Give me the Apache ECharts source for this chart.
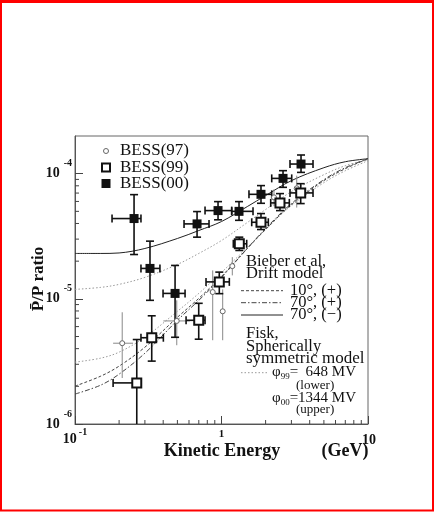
<!DOCTYPE html>
<html><head><meta charset="utf-8">
<script src="https://cdn.jsdelivr.net/npm/echarts@6/dist/echarts.min.js"></script>
<style>html,body{margin:0;padding:0;background:#fff}#c{width:434px;height:512px}</style>
</head><body><div id="c"></div>
<script>
// ---------------- data ----------------
const b00E   = [0.253, 0.325, 0.482, 0.681, 0.947, 1.317, 1.860, 2.63, 3.49];
const b00R   = [4.38e-5, 1.75e-5, 1.105e-5, 3.97e-5, 5.07e-5, 5.00e-5, 6.84e-5, 9.17e-5, 1.194e-4];
const b00Elo = [0.179, 0.282, 0.399, 0.555, 0.772, 1.174, 1.540, 2.202, 2.935];
const b00Ehi = [0.282, 0.380, 0.564, 0.822, 1.174, 1.641, 2.202, 3.015, 4.214];
const b00Rlo = [2.26e-5, 9.73e-6, 4.93e-6, 3.11e-5, 4.28e-5, 4.24e-5, 5.80e-5, 7.78e-5, 1.024e-4];
const b00Rhi = [6.80e-5, 2.89e-5, 1.849e-5, 4.98e-5, 5.98e-5, 5.98e-5, 8.03e-5, 1.057e-4, 1.41e-4];

const b99E   = [0.264, 0.334, 0.699, 0.966, 1.323, 1.860, 2.507, 3.473];
const b99R   = [2.13e-6, 4.89e-6, 6.74e-6, 1.366e-5, 2.754e-5, 4.09e-5, 5.84e-5, 7.02e-5];
const b99Elo = [0.182, 0.282, 0.573, 0.784, 1.204, 1.608, 2.167, 2.935];
const b99Ehi = [0.274, 0.401, 0.772, 1.131, 1.486, 2.087, 2.903, 4.214];
const b99Rlo = [5e-7, 3.18e-6, 4.76e-6, 1.10e-5, 2.435e-5, 3.58e-5, 5.07e-5, 5.77e-5];
const b99Rhi = [4.73e-6, 7.32e-6, 9.21e-6, 1.635e-5, 3.11e-5, 4.80e-5, 6.93e-5, 8.32e-5];

const b97E   = [0.210, 0.495, 0.871, 1.019, 1.185, 2.282, 3.262];
const b97R   = [4.42e-6, 6.66e-6, 1.133e-5, 7.95e-6, 1.825e-5, 6.47e-5, 7.64e-5];
const b97Elo = [0.182, 0.401, 0.871, 1.019, 1.185, 2.282, 3.262];
const b97Ehi = [0.249, 0.609, 0.871, 1.019, 1.185, 2.282, 3.262];
const b97Rlo = [2.33e-6, 4.26e-6, 4.67e-6, 4.67e-6, 1.539e-5, 5.5e-5, 5.36e-5];
const b97Rhi = [7.81e-6, 9.73e-6, 1.687e-5, 1.19e-5, 2.153e-5, 7.5e-5, 9.64e-5];

const curveE    = [0.1, 0.15, 0.2, 0.3, 0.5, 0.7, 1, 1.5, 2, 3, 5, 7, 10];
const solid70m  = [2.305e-5, 2.305e-5, 2.326e-5, 2.526e-5, 3.035e-5, 3.514e-5, 4.146e-5, 5.46e-5, 6.68e-5, 8.80e-5, 1.116e-4, 1.246e-4, 1.317e-4];
const fiskUpper = [1.190e-5, 1.235e-5, 1.305e-5, 1.484e-5, 1.884e-5, 2.305e-5, 2.925e-5, 4.07e-5, 5.17e-5, 7.19e-5, 9.82e-5, 1.158e-4, 1.293e-4];
const fiskLower = [3.12e-6, 3.36e-6, 3.75e-6, 4.93e-6, 7.95e-6, 1.106e-5, 1.626e-5, 2.573e-5, 3.58e-5, 5.56e-5, 8.48e-5, 1.056e-4, 1.27e-4];
const dot10p    = [2.008e-6, 2.413e-6, 2.90e-6, 4.11e-6, 7.12e-6, 1.009e-5, 1.511e-5, 2.526e-5, 3.58e-5, 5.66e-5, 8.80e-5, 1.096e-4, 1.317e-4];
const dash70p   = [1.734e-6, 2.046e-6, 2.502e-6, 3.68e-6, 6.74e-6, 9.73e-6, 1.484e-5, 2.526e-5, 3.65e-5, 5.77e-5, 8.96e-5, 1.116e-4, 1.317e-4];

const xMajor = [0.1, 1, 10];
const yMajor = [1e-6, 1e-5, 1e-4];
// ---------------------------------------

const SERIF = '"Liberation Serif", "DejaVu Serif", serif';
const xMinor = [], yMinor = [];
[0.1, 1].forEach(d => { for (let k = 2; k <= 9; k++) xMinor.push(+(d * k).toPrecision(3)); });
[1e-6, 1e-5, 1e-4].forEach(d => { for (let k = 2; k <= 9; k++) { const v = +(d * k).toPrecision(3); if (v < 2e-4) yMinor.push(v); } });

function pts(E, R) { return E.map((e, i) => [e, R[i]]); }
function errData(E, R, Elo, Ehi, Rlo, Rhi) { return E.map((e, i) => [e, R[i], Elo[i], Ehi[i], Rlo[i], Rhi[i]]); }
function errRender(color, width, cap) {
  return function (params, api) {
    const E = api.value(0), R = api.value(1);
    const c = api.coord([E, R]);
    const pl = api.coord([api.value(2), R]), ph = api.coord([api.value(3), R]);
    const pv1 = api.coord([E, api.value(4)]), pv2 = api.coord([E, api.value(5)]);
    const st = { stroke: color, lineWidth: width, fill: null };
    const ch = [];
    if (Math.abs(ph[0] - pl[0]) > 0.5) ch.push({ type: 'line', shape: { x1: pl[0], y1: c[1], x2: ph[0], y2: c[1] }, style: st });
    ch.push({ type: 'line', shape: { x1: c[0], y1: pv1[1], x2: c[0], y2: pv2[1] }, style: st });
    if (cap) {
      if (Math.abs(ph[0] - pl[0]) > 0.5) {
        ch.push({ type: 'line', shape: { x1: pl[0], y1: c[1] - cap, x2: pl[0], y2: c[1] + cap }, style: st });
        ch.push({ type: 'line', shape: { x1: ph[0], y1: c[1] - cap, x2: ph[0], y2: c[1] + cap }, style: st });
      }
      ch.push({ type: 'line', shape: { x1: c[0] - cap, y1: pv1[1], x2: c[0] + cap, y2: pv1[1] }, style: st });
      ch.push({ type: 'line', shape: { x1: c[0] - cap, y1: pv2[1], x2: c[0] + cap, y2: pv2[1] }, style: st });
    }
    return { type: 'group', children: ch };
  };
}

const chart = echarts.init(document.getElementById('c'), null, { renderer: 'canvas' });

function curve(name, R, color, type, width) {
  return { name, type: 'line', data: pts(curveE, R), showSymbol: false, smooth: 0.35, silent: true,
    lineStyle: { color, type, width }, z: 3 };
}

const txt = (text, x, y, size, opts = {}) => ({
  type: 'text', x, y, silent: true, rotation: opts.rot || 0,
  style: Object.assign({ text, fill: '#111', font: (opts.bold ? 'bold ' : '') + size + 'px ' + SERIF,
    fontSize: size, fontFamily: SERIF, fontWeight: opts.bold ? 'bold' : 'normal',
    textAlign: opts.align || 'left', textVerticalAlign: 'middle', verticalAlign: 'middle' }, opts.style || {})
});
const seg = (x1, y1, x2, y2, color, dash, w) => ({ type: 'line', silent: true,
  shape: { x1, y1, x2, y2 }, style: { stroke: color, lineWidth: w || 1, lineDash: dash || null } });

const subRich = { p: { fontSize: 15, fontFamily: SERIF, fill: '#111' }, s: { fontSize: 9, fontFamily: SERIF, fill: '#111', padding: [8, 0, 0, 0] }, t: { fontSize: 15, fontFamily: SERIF, fill: '#111' } };

chart.setOption({
  animation: false,
  backgroundColor: '#fff',
  grid: { left: 75, right: 66, top: 136, bottom: 88, show: true, borderColor: '#666', borderWidth: 1, backgroundColor: 'transparent' },
  xAxis: {
    type: 'log', logBase: 10, min: 0.1, max: 10,
    axisLine: { show: true, lineStyle: { color: '#555', width: 1 } },
    axisTick: { show: true, inside: true, length: 8, lineStyle: { color: '#444' } },
    splitLine: { show: false },
    axisLabel: {
      margin: 3, color: '#111',
      formatter: v => {
        if (Math.abs(v - 0.1) < 1e-9) return '{b|10}{s|-1}';
        if (Math.abs(v - 1) < 1e-9) return '{n|1}';
        if (Math.abs(v - 10) < 1e-9) return '{r|10}';
        return '';
      },
      rich: {
        b: { fontFamily: SERIF, fontWeight: 'bold', fontSize: 14, color: '#111' },
        s: { fontFamily: SERIF, fontWeight: 'bold', fontSize: 10, color: '#111', padding: [0, 0, 14, 2] },
        n: { fontFamily: SERIF, fontWeight: 'bold', fontSize: 11, color: '#111', padding: [2, 0, 0, 0] },
        r: { fontFamily: SERIF, fontWeight: 'bold', fontSize: 14, color: '#111', padding: [6, 0, 0, 2] }
      }
    }
  },
  yAxis: {
    type: 'log', logBase: 10, min: 1e-6, max: 2e-4,
    axisLine: { show: true, lineStyle: { color: '#555', width: 1 } },
    axisTick: { show: true, inside: true, length: 8, lineStyle: { color: '#444' } },
    splitLine: { show: false },
    axisLabel: {
      margin: 3, color: '#111', showMaxLabel: false,
      formatter: v => {
        const e = Math.round(Math.log10(v));
        if (Math.abs(Math.log10(v) - e) > 1e-6) return '';
        return '{b|10}{s|' + e + '}';
      },
      rich: {
        b: { fontFamily: SERIF, fontWeight: 'bold', fontSize: 14, color: '#111', padding: [0, 4, 0, 0] },
        s: { fontFamily: SERIF, fontWeight: 'bold', fontSize: 10, color: '#111', padding: [0, 0, 20, 0] }
      }
    }
  },
  series: [
    { // minor ticks
      type: 'custom', silent: true, z: 1, clip: false,
      data: xMinor.map(v => [v, 0]).concat(yMinor.map(v => [v, 1])),
      renderItem: (params, api) => {
        const v = api.value(0), isY = api.value(1) === 1;
        const st = { stroke: '#444', lineWidth: 1 };
        if (!isY) { const p = api.coord([v, 1e-6]); return { type: 'line', shape: { x1: p[0], y1: p[1], x2: p[0], y2: p[1] - 4 }, style: st }; }
        const p = api.coord([0.1, v]); return { type: 'line', shape: { x1: p[0], y1: p[1], x2: p[0] + 4, y2: p[1] }, style: st };
      }
    },
    curve('Fisk upper', fiskUpper, '#999', [1.5, 2], 1),
    curve('Fisk lower', fiskLower, '#999', [1.5, 2], 1),
    curve('10 (+)', dot10p, '#444', [3, 2], 1),
    curve('70 (+)', dash70p, '#444', [5, 2, 1.5, 2], 1),
    curve('70 (-)', solid70m, '#222', 'solid', 1),
    { type: 'custom', name: 'BESS(97) err', clip: true, z: 4, silent: true,
      data: errData(b97E, b97R, b97Elo, b97Ehi, b97Rlo, b97Rhi), renderItem: errRender('#888', 1, 0) },
    { type: 'custom', name: 'BESS(99) err', clip: true, z: 4, silent: true,
      data: errData(b99E, b99R, b99Elo, b99Ehi, b99Rlo, b99Rhi), renderItem: errRender('#111', 1.6, 4) },
    { type: 'custom', name: 'BESS(00) err', clip: true, z: 4, silent: true,
      data: errData(b00E, b00R, b00Elo, b00Ehi, b00Rlo, b00Rhi), renderItem: errRender('#111', 1.6, 4) },
    { type: 'scatter', name: 'BESS(97)', data: pts(b97E, b97R), symbol: 'circle', symbolSize: 5, z: 5,
      itemStyle: { color: '#fff', borderColor: '#666', borderWidth: 1, opacity: 1 } },
    { type: 'scatter', name: 'BESS(99)', data: pts(b99E, b99R), symbol: 'rect', symbolSize: 9, z: 5,
      itemStyle: { color: '#fff', borderColor: '#111', borderWidth: 2, opacity: 1 } },
    { type: 'scatter', name: 'BESS(00)', data: pts(b00E, b00R), symbol: 'rect', symbolSize: 9, z: 5,
      itemStyle: { color: '#111', opacity: 1 } }
  ],
  graphic: [
    { type: 'rect', silent: true, shape: { x: 1, y: 1.5, width: 432, height: 509 }, style: { fill: null, stroke: '#ff0000', lineWidth: 2 } },
    seg(0, 1.5, 434, 1.5, '#ff0000', null, 3),
    // BESS legend
    { type: 'circle', silent: true, shape: { cx: 106, cy: 151, r: 2.5 }, style: { fill: '#fff', stroke: '#666', lineWidth: 1 } },
    { type: 'rect', silent: true, shape: { x: 102, y: 163.5, width: 8, height: 8 }, style: { fill: '#fff', stroke: '#111', lineWidth: 2 } },
    { type: 'rect', silent: true, shape: { x: 101.5, y: 179, width: 9, height: 9 }, style: { fill: '#111' } },
    txt('BESS(97)', 120, 151, 17),
    txt('BESS(99)', 120, 167.5, 17),
    txt('BESS(00)', 120, 183.5, 17),
    // Bieber legend
    txt('Bieber et al,', 246, 261.5, 16.5),
    txt('Drift model', 246, 273.5, 16.5),
    seg(241, 290.7, 283, 290.7, '#444', [3, 2], 1),
    seg(241, 302.7, 283, 302.7, '#444', [5, 2, 1.5, 2], 1),
    seg(241, 315, 283, 315, '#222', null, 1),
    txt('10°, (+)', 290, 290.5, 16.5),
    txt('70°, (+)', 290, 302.5, 16.5),
    txt('70°, (−)', 290, 315, 16.5),
    // Fisk legend
    txt('Fisk,', 246, 334, 16.5),
    txt('Spherically', 246, 347, 16.5),
    txt('symmetric model', 246, 359, 17),
    seg(241, 372.7, 267, 372.7, '#999', [1.5, 2], 1),
    { type: 'text', silent: true, x: 272, y: 372.5, style: { text: '{p|φ}{s|99}{t|=  648 MV}', rich: subRich, verticalAlign: 'middle', textVerticalAlign: 'middle' } },
    txt('(lower)', 296, 385.5, 13),
    { type: 'text', silent: true, x: 272, y: 398.5, style: { text: '{p|φ}{s|00}{t|=1344 MV}', rich: subRich, verticalAlign: 'middle', textVerticalAlign: 'middle' } },
    txt('(upper)', 296, 410, 13),
    // axis titles
    txt('Kinetic Energy', 222, 451, 18, { bold: true, align: 'center' }),
    txt('(GeV)', 345, 451, 18, { bold: true, align: 'center' }),
    txt('P\u0304/P ratio', 39, 279, 17, { bold: true, align: 'center', rot: Math.PI / 2 })
  ]
});
</script>
</body></html>
